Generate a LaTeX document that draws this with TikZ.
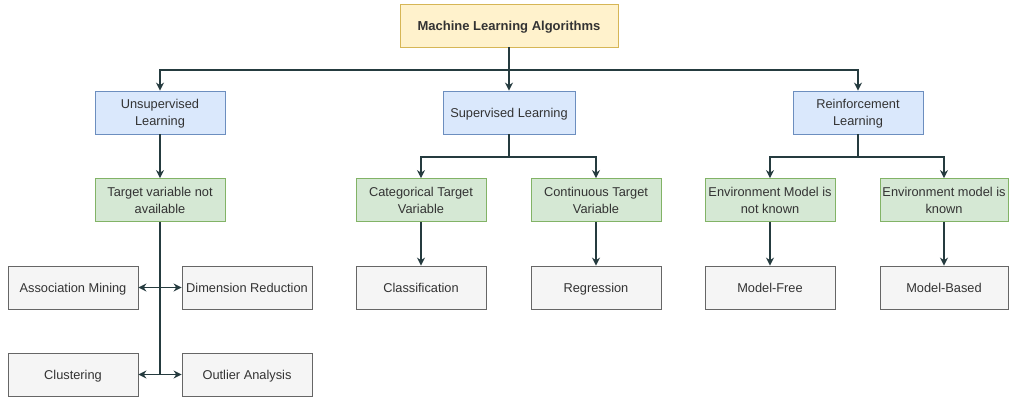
\documentclass[tikz,border=0pt]{standalone}
\usepackage{fontspec}
\setmainfont{Liberation Sans}
\usetikzlibrary{arrows.meta}
\definecolor{edgec}{HTML}{253B3F}
\definecolor{txtc}{HTML}{333333}
\definecolor{yfill}{HTML}{FFF2CC}\definecolor{ydraw}{HTML}{D6B656}
\definecolor{bfill}{HTML}{DAE8FC}\definecolor{bdraw}{HTML}{6C8EBF}
\definecolor{gfill}{HTML}{D5E8D4}\definecolor{gdraw}{HTML}{82B366}
\definecolor{qfill}{HTML}{F5F5F5}\definecolor{qdraw}{HTML}{666666}
\begin{document}
\begin{tikzpicture}[x=1pt,y=-1pt,
  base/.style={draw, line width=0.8pt, minimum width=130pt, minimum height=43pt, align=center, text=txtc, font=\fontsize{12.8}{17}\selectfont, inner sep=1pt},
  oneline/.style={text height=11.3pt, text depth=1.5pt},
  twoline/.style={text depth=0pt},
  ybox/.style={base, oneline, fill=yfill, draw=ydraw, minimum width=218pt, font=\fontsize{13}{17}\selectfont\bfseries},
  bbox/.style={base, fill=bfill, draw=bdraw},
  gbox/.style={base, twoline, fill=gfill, draw=gdraw},
  qbox/.style={base, oneline, fill=qfill, draw=qdraw},
  conn/.style={draw=edgec, line width=1.3pt, -{Stealth[length=8pt,width=8pt]}},
  biconn/.style={draw=edgec, line width=1.3pt, {Stealth[length=8pt,width=8pt]}-{Stealth[length=8pt,width=8pt]}},
  plain/.style={draw=edgec, line width=1.3pt}]
\useasboundingbox (0,0) rectangle (1010,398);
\node[ybox] (ml) at (509,25.5) {Machine Learning Algorithms};
\node[bbox, twoline] (ul) at (160,112.5) {Unsupervised\\Learning};
\node[bbox, oneline, minimum width=132pt] (sl) at (509,112.5) {Supervised Learning};
\node[bbox, twoline] (rl) at (858,112.5) {Reinforcement\\Learning};
\node[gbox] (tv) at (160,200) {Target variable not\\available};
\node[gbox] (ct) at (421,200) {Categorical Target\\Variable};
\node[gbox] (co) at (596,200) {Continuous Target\\Variable};
\node[gbox] (en) at (770,200) {Environment Model is\\not known};
\node[gbox, minimum width=128pt] (ek) at (944,200) {Environment model is\\known};
\node[qbox] (cl) at (421,287.5) {Classification};
\node[qbox] (rg) at (596,287.5) {Regression};
\node[qbox] (mf) at (770,287.5) {Model-Free};
\node[qbox, minimum width=128pt] (mb) at (944,287.5) {Model-Based};
\node[qbox] (am) at (73,287.5) {Association Mining};
\node[qbox] (dr) at (247,287.5) {Dimension Reduction};
\node[qbox] (cu) at (73,374.5) {Clustering};
\node[qbox] (oa) at (247,374.5) {Outlier Analysis};
% top level
\coordinate (j1) at (509,70);
\draw[plain] (ml.south) -- (j1);
\draw[conn] (j1) -| (ul.north);
\draw[conn] (j1) -- (sl.north);
\draw[conn] (j1) -| (rl.north);
% unsupervised
\draw[conn] (ul) -- (tv);
\coordinate (u1) at (160,287.5);
\coordinate (u2) at (160,374.5);
\draw[plain] (tv.south) -- (u2);
\draw[biconn] (am.east) -- (dr.west);
\draw[biconn] (cu.east) -- (oa.west);
% supervised
\coordinate (j2) at (509,157);
\draw[plain] (sl.south) -- (j2);
\draw[conn] (j2) -| (ct.north);
\draw[conn] (j2) -| (co.north);
\draw[conn] (ct) -- (cl);
\draw[conn] (co) -- (rg);
% reinforcement
\coordinate (j3) at (858,157);
\draw[plain] (rl.south) -- (j3);
\draw[conn] (j3) -| (en.north);
\draw[conn] (j3) -| (ek.north);
\draw[conn] (en) -- (mf);
\draw[conn] (ek) -- (mb);
\end{tikzpicture}
\end{document}
